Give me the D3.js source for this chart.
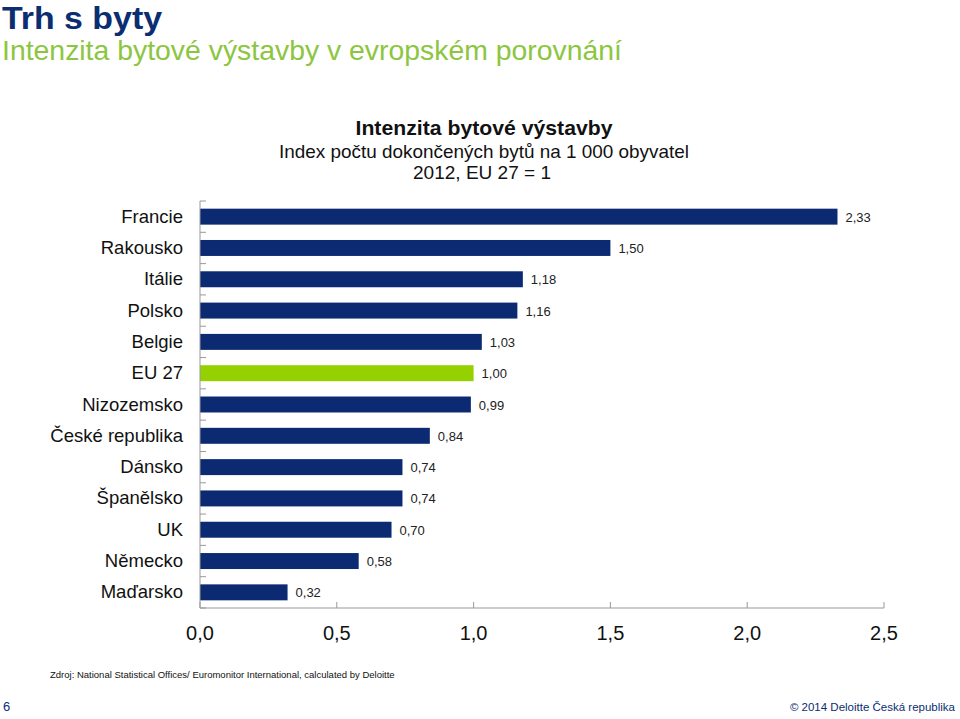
<!DOCTYPE html>
<html><head><meta charset="utf-8">
<script src="https://cdn.jsdelivr.net/npm/d3@7"></script>
<style>body{margin:0;background:#fff;} text{font-family:"Liberation Sans",Arial,Helvetica,sans-serif;}</style>
</head><body>
<svg id="c" width="960" height="719"></svg>
<script>
const categories = ["Francie","Rakousko","Itálie","Polsko","Belgie","EU 27","Nizozemsko","České republika","Dánsko","Španělsko","UK","Německo","Maďarsko"];
const values = [2.33,1.50,1.18,1.16,1.03,1.00,0.99,0.84,0.74,0.74,0.70,0.58,0.32];
const labels = ["2,33","1,50","1,18","1,16","1,03","1,00","0,99","0,84","0,74","0,74","0,70","0,58","0,32"];
const xTicks = [0,0.5,1.0,1.5,2.0,2.5];
const xTickLabels = ["0,0","0,5","1,0","1,5","2,0","2,5"];
const highlight = "EU 27";

const svg = d3.select("#c");
const navy = "#0b2a72", green = "#95d100";

svg.append("text").attr("x",2).attr("y",29).attr("font-size",32).attr("font-weight","bold").attr("fill","#0b2d72")
  .attr("textLength",160).attr("lengthAdjust","spacingAndGlyphs").text("Trh s byty");
svg.append("text").attr("x",2).attr("y",60).attr("font-size",28).attr("fill","#8cc63f")
  .attr("textLength",620).attr("lengthAdjust","spacingAndGlyphs").text("Intenzita bytové výstavby v evropském porovnání");

svg.append("text").attr("x",484).attr("y",135).attr("text-anchor","middle").attr("font-size",21).attr("font-weight","bold").attr("fill","#111")
  .attr("textLength",257).attr("lengthAdjust","spacingAndGlyphs").text("Intenzita bytové výstavby");
svg.append("text").attr("x",484).attr("y",158).attr("text-anchor","middle").attr("font-size",19).attr("fill","#111")
  .attr("textLength",410).attr("lengthAdjust","spacingAndGlyphs").text("Index počtu dokončených bytů na 1 000 obyvatel");
svg.append("text").attr("x",482).attr("y",179).attr("text-anchor","middle").attr("font-size",19).attr("fill","#111")
  .attr("textLength",138).attr("lengthAdjust","spacingAndGlyphs").text("2012, EU 27 = 1");

const x = d3.scaleLinear().domain([0,2.5]).range([200,884]);
const y = d3.scaleBand().domain(categories).range([201,608]).paddingInner(0.49).paddingOuter(0.245);

// bars
svg.append("g").selectAll("rect").data(categories).join("rect")
  .attr("x",x(0)).attr("y",d=>y(d)).attr("height",y.bandwidth())
  .attr("width",(d,i)=>x(values[i])-x(0))
  .attr("fill",d=>d===highlight?green:navy);

// value labels
svg.append("g").selectAll("text").data(categories).join("text")
  .attr("x",(d,i)=>x(values[i])+8).attr("y",d=>y(d)+y.bandwidth()/2+5)
  .attr("font-size",13).attr("fill","#222").text((d,i)=>labels[i]);

// y axis line & ticks
const axisCol = "#999";
svg.append("line").attr("x1",200).attr("x2",200).attr("y1",201).attr("y2",608).attr("stroke",axisCol);
const bounds = d3.range(categories.length+1).map(i=>201+i*(407/categories.length));
svg.append("g").selectAll("line").data(bounds).join("line")
  .attr("x1",200).attr("x2",206).attr("y1",d=>d).attr("y2",d=>d).attr("stroke",axisCol);

// category labels
svg.append("g").selectAll("text").data(categories).join("text")
  .attr("x",183).attr("y",d=>y(d)+y.bandwidth()/2+6).attr("text-anchor","end")
  .attr("font-size",18.5).attr("fill","#111").text(d=>d);

// x axis
svg.append("line").attr("x1",200).attr("x2",884).attr("y1",608).attr("y2",608).attr("stroke",axisCol);
svg.append("g").selectAll("line").data(xTicks).join("line")
  .attr("x1",d=>x(d)).attr("x2",d=>x(d)).attr("y1",602).attr("y2",608).attr("stroke",axisCol);
svg.append("g").selectAll("text").data(xTicks).join("text")
  .attr("x",d=>x(d)).attr("y",640).attr("text-anchor","middle").attr("font-size",20).attr("fill","#111")
  .text((d,i)=>xTickLabels[i]);

// footer
svg.append("text").attr("x",50).attr("y",678).attr("font-size",9.5).attr("fill","#111").text("Zdroj: National Statistical Offices/ Euromonitor International, calculated by Deloitte");
svg.append("text").attr("x",3).attr("y",711).attr("font-size",13).attr("fill","#0b2d72").text("6");
svg.append("text").attr("x",955).attr("y",711).attr("text-anchor","end").attr("font-size",11.5).attr("fill","#0b2d72")
  .text("© 2014 Deloitte Česká republika");
</script>
</body></html>
